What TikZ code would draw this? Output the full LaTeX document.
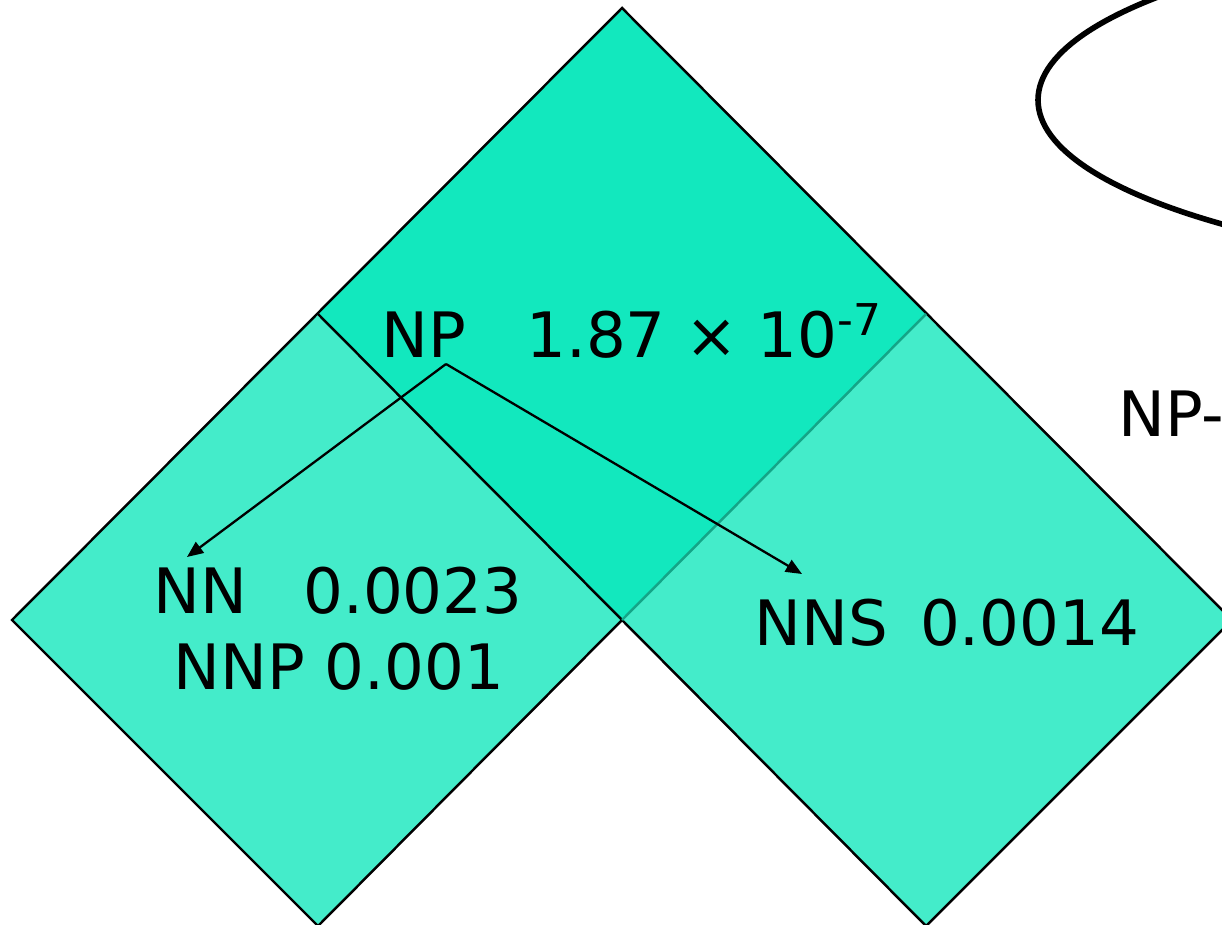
\documentclass[tikz,border=0pt]{standalone}
\usepackage{fontspec}
\setmainfont{DejaVu Sans}
\usepackage{tikz}
\usetikzlibrary{arrows.meta}
\definecolor{topgreen}{RGB}{18,232,190}
\definecolor{subgreen}{RGB}{68,236,202}
\definecolor{seamgreen}{RGB}{20,165,135}
\tikzset{
  entry/.style = {anchor=base west, inner sep=0pt,
    font=\fontsize{17.8}{22}\selectfont},% cell text
  topcell/.style = {fill=topgreen},% parent cell
  subcell/.style = {fill=subgreen},% child cells
  edge/.style = {draw=black, line width=0.7pt, line join=miter},
  seam/.style = {draw=seamgreen, line width=0.7pt},
  link/.style = {draw=black, line width=0.65pt,
    -{Triangle[length=4.6pt,width=3.8pt]}},% back pointer
  loop/.style = {draw=black, line width=1.6pt}% rule bubble
}
\begin{document}
\begin{tikzpicture}[x=0.01cm,y=-0.01cm]
\useasboundingbox (0,0) rectangle (1222,925);
\clip (0,0) rectangle (1222,925);
% cell corners
\coordinate (apex) at (622,8);
\coordinate (lft)  at (318,314);
\coordinate (rgt)  at (926,314);
\coordinate (mid)  at (622,620);
\coordinate (lfar) at (12,620);
\coordinate (lbot) at (318,926);
\coordinate (rfar) at (1232,620);
\coordinate (rbot) at (926,926);

\fill[topcell] (apex) -- (rgt) -- (mid) -- (lft) -- cycle;
\fill[subcell] (lft) -- (mid) -- (lbot) -- (lfar) -- cycle;
\fill[subcell] (rgt) -- (rfar) -- (rbot) -- (mid) -- cycle;
\draw[edge] (lfar) -- (apex) -- (rfar) -- (rbot) -- (mid) -- (lbot) -- cycle;
\draw[edge] (lft) -- (mid);
\draw[seam] (rgt) -- (mid);

\draw[loop] (1688,100) ellipse [x radius=650, y radius=178];

% cell entries
\node[entry] (np)  at (381,358) {NP\hspace{6mm}1.87 × 10\textsuperscript{-7}};
\node[entry] (nn)  at (153,613) {NN\hspace{5.6mm}0.0023};
\node[entry] (nnp) at (173,689) {NNP 0.001};
\node[entry] (nns) at (754,645) {NNS\hspace{3.2mm}0.0014};
\node[entry] (rule) at (1118,437) {NP-};

\coordinate (split) at (446,364);
\coordinate (nntip) at (187,557);
\coordinate (nnstip) at (802,574);
\draw[link] (split) -- (nntip);
\draw[link] (split) -- (nnstip);
\end{tikzpicture}
\end{document}
